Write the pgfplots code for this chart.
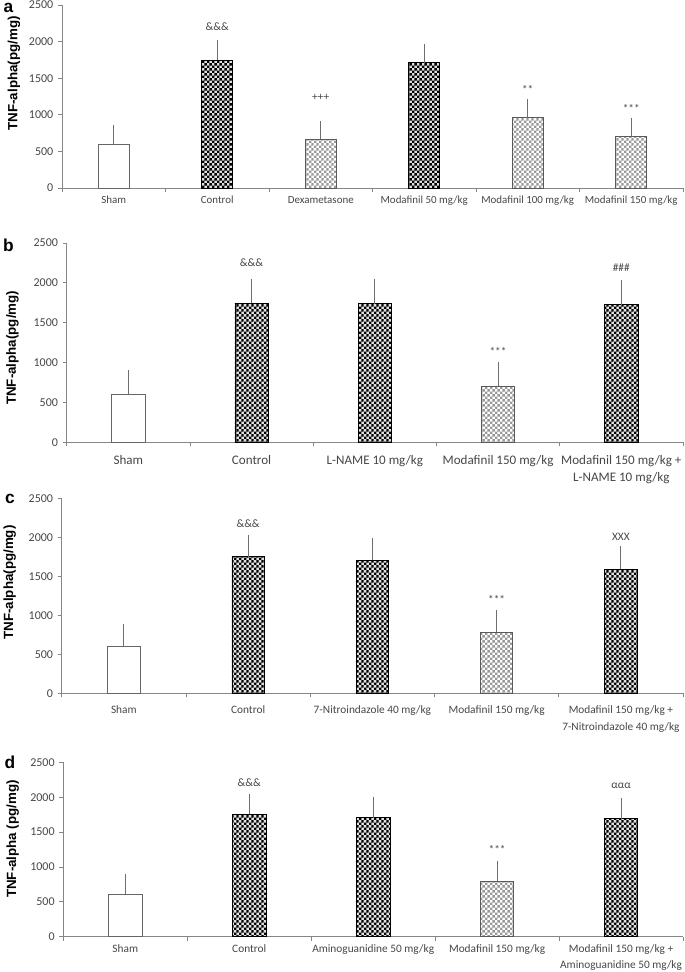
\documentclass[border=0pt]{standalone}
\usepackage{fontspec}
\setmainfont{Carlito}
\newfontfamily\arialfont{Liberation Sans}
\usepackage{pgfplots}
\pgfplotsset{compat=1.18}
\usetikzlibrary{patterns}

\pgfdeclarepatternformonly{finecheck}{\pgfpointorigin}{\pgfqpoint{4pt}{4pt}}{\pgfqpoint{4pt}{4pt}}{%
  \pgfpathrectangle{\pgfpointorigin}{\pgfqpoint{2pt}{2pt}}%
  \pgfpathrectangle{\pgfqpoint{2pt}{2pt}}{\pgfqpoint{2pt}{2pt}}%
  \pgfusepath{fill}}

\definecolor{axgray}{RGB}{134,134,134}
\definecolor{txtgray}{RGB}{70,70,70}
\definecolor{errgray}{RGB}{110,110,110}

\tikzset{ann/.style={font=\fontsize{8.5}{9}\selectfont, text=txtgray, anchor=center}}

\pgfplotsset{
  panel/.style={
    scale only axis,
    anchor=south west,
    ymin=0, ymax=2500, ytick={0,500,...,2500},
    axis x line*=bottom, axis y line*=left,
    axis line style={axgray, line width=0.6pt},
    tick align=outside,
    major tick length=3pt,
    every tick/.style={axgray, line width=0.6pt},
    y tick label style={font=\fontsize{9}{10}\selectfont, text=txtgray},
    /pgf/number format/assume math mode=true,
    /pgf/number format/1000 sep={},
    xticklabels={,,,,,,,},
    clip=false,
    every axis y label/.style={rotate=90, anchor=center, font=\arialfont\bfseries\fontsize{10}{12}\selectfont},
  },
  ebar/.style={error bars/.cd, y dir=plus, y explicit,
    error bar style={errgray, line width=0.75pt},
    error mark options={errgray, line width=0.75pt, mark size=2pt}},
  shambar/.style={ybar, bar width=#1, draw=black!60, fill=white, line width=0.6pt, ebar},
  darkbar/.style={ybar, bar width=#1, draw=black, fill=black!12, postaction={pattern=finecheck, pattern color=black}, line width=0.6pt, ebar},
  lightbar/.style={ybar, bar width=#1, draw=black!65, fill=white, postaction={pattern=finecheck, pattern color=black!40}, line width=0.6pt, ebar},
}

\begin{document}
\begin{tikzpicture}
\useasboundingbox (0,0) rectangle (513.75pt,729pt);

% ---------------- panel a ----------------
\begin{axis}[panel, at={(46.5pt,588pt)}, width=465.75pt, height=137.25pt,
  xmin=0.5, xmax=6.5,
  xtick={0.5,1.5,...,6.5},
  extra x ticks={1,2,3,4,5,6},
  extra x tick labels={Sham, Control, Dexametasone, Modafinil 50 mg/kg, Modafinil 100 mg/kg, Modafinil 150 mg/kg},
  extra x tick style={major tick length=0pt, xticklabel style={font=\fontsize{8.2}{10}\selectfont, text=txtgray, align=center, yshift=-2.5pt}},
  ylabel={TNF-alpha(pg/mg)},
  ylabel style={at={(rel axis cs:0,0.626)}, yshift=36pt},
]
\addplot[shambar=0.3] coordinates {(1,600) +- (0,230)};
\addplot[darkbar=0.3] coordinates {(2,1745) +- (0,235) (4,1710) +- (0,220)};
\addplot[lightbar=0.3] coordinates {(3,665) +- (0,210) (5,960) +- (0,215) (6,710) +- (0,215)};
\node[ann] at (axis cs:2,2200) {\&\&\&};
\node[ann] at (axis cs:3,1233) {+++};
\node[ann] at (axis cs:5,1340) {**};
\node[ann] at (axis cs:6,1085) {***};
\end{axis}

% ---------------- panel b ----------------
\begin{axis}[panel, at={(50pt,397.3pt)}, width=462.2pt, height=149.5pt,
  xmin=0.5, xmax=5.5,
  xtick={0.5,1.5,...,5.5},
  extra x ticks={1,2,3,4,5},
  extra x tick labels={Sham, Control, L-NAME 10 mg/kg, Modafinil 150 mg/kg, {Modafinil 150 mg/kg +\\L-NAME 10 mg/kg}},
  extra x tick style={major tick length=0pt, xticklabel style={font=\fontsize{9.8}{12.75}\selectfont, text=txtgray, align=center, yshift=-6pt}},
  ylabel={TNF-alpha(pg/mg)},
  ylabel style={at={(rel axis cs:0,0.474)}, yshift=40.6pt},
]
\addplot[shambar=0.27] coordinates {(1,600) +- (0,270)};
\addplot[darkbar=0.27] coordinates {(2,1745) +- (0,270) (3,1740) +- (0,270) (5,1725) +- (0,273)};
\addplot[lightbar=0.27] coordinates {(4,700) +- (0,272)};
\node[ann] at (axis cs:2,2249) {\&\&\&};
\node[ann] at (axis cs:4,1140) {***};
\node[ann] at (axis cs:5,2186) {\#\#\#};
\end{axis}

% ---------------- panel c ----------------
\begin{axis}[panel, at={(46.3pt,209pt)}, width=466pt, height=146.25pt,
  xmin=0.5, xmax=5.5,
  xtick={0.5,1.5,...,5.5},
  extra x ticks={1,2,3,4,5},
  extra x tick labels={Sham, Control, 7-Nitroindazole 40 mg/kg, Modafinil 150 mg/kg, {Modafinil 150 mg/kg +\\7-Nitroindazole 40 mg/kg}},
  extra x tick style={major tick length=0pt, xticklabel style={font=\fontsize{8.5}{12.75}\selectfont, text=txtgray, align=center, yshift=-6pt}},
  ylabel={TNF-alpha(pg/mg)},
  ylabel style={at={(rel axis cs:0,0.568)}, yshift=39pt},
]
\addplot[shambar=0.26] coordinates {(1,605) +- (0,245)};
\addplot[darkbar=0.26] coordinates {(2,1750) +- (0,243) (3,1705) +- (0,257) (5,1594) +- (0,256)};
\addplot[lightbar=0.26] coordinates {(4,782) +- (0,256)};
\node[ann] at (axis cs:2,2170) {\&\&\&};
\node[ann] at (axis cs:4,1200) {***};
\node[ann] at (axis cs:5,2008) {XXX};
\end{axis}

% ---------------- panel d ----------------
\begin{axis}[panel, at={(47.5pt,26.5pt)}, width=464.8pt, height=130.8pt,
  xmin=0.5, xmax=5.5,
  xtick={0.5,1.5,...,5.5},
  extra x ticks={1,2,3,4,5},
  extra x tick labels={Sham, Control, Aminoguanidine 50 mg/kg, Modafinil 150 mg/kg, {Modafinil 150 mg/kg +\\Aminoguanidine 50 mg/kg}},
  extra x tick style={major tick length=0pt, xticklabel style={font=\fontsize{8.5}{12.5}\selectfont, text=txtgray, align=center, yshift=-2.3pt}},
  ylabel={TNF-alpha (pg/mg)},
  ylabel style={at={(rel axis cs:0,0.56)}, yshift=38pt},
]
\addplot[shambar=0.27] coordinates {(1,608) +- (0,252)};
\addplot[darkbar=0.27] coordinates {(2,1754) +- (0,253) (3,1706) +- (0,263) (5,1691) +- (0,259)};
\addplot[lightbar=0.27] coordinates {(4,788) +- (0,264)};
\node[ann] at (axis cs:2,2207) {\&\&\&};
\node[ann] at (axis cs:4,1255) {***};
\node[ann] at (axis cs:5,2164) {ααα};
\end{axis}

% panel letters
\node[font=\arialfont\bfseries\fontsize{13}{14}\selectfont, anchor=center] at (6.4pt,723pt) {a};
\node[font=\arialfont\bfseries\fontsize{13}{14}\selectfont, anchor=center] at (6.4pt,544.9pt) {b};
\node[font=\arialfont\bfseries\fontsize{13}{14}\selectfont, anchor=center] at (7.5pt,354.75pt) {c};
\node[font=\arialfont\bfseries\fontsize{13}{14}\selectfont, anchor=center] at (7.5pt,157.1pt) {d};
\end{tikzpicture}
\end{document}
